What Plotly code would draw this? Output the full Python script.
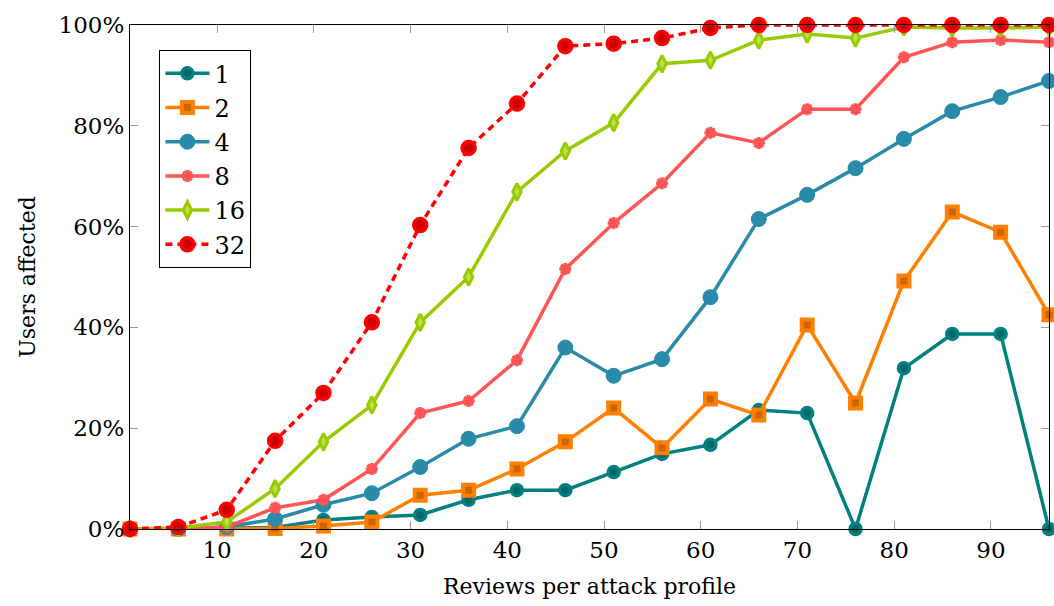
import plotly.graph_objects as go

reviews = [1, 6, 11, 16, 21, 26, 31, 36, 41, 46, 51, 56, 61, 66, 71, 76, 81, 86, 91, 96]

s1 = [0, 0, 0.2, 0.3, 1.8, 2.4, 2.8, 5.8, 7.7, 7.7, 11.3, 14.9, 16.7, 23.6, 23.0, 0, 31.9, 38.7, 38.7, 0]
s2 = [0, 0, 0, 0.1, 0.6, 1.4, 6.7, 7.7, 11.9, 17.3, 24.0, 16.1, 25.8, 22.6, 40.5, 25.0, 49.2, 62.9, 58.9, 42.5]
s4 = [0, 0, 0.4, 2.0, 4.8, 7.1, 12.3, 17.9, 20.4, 36.0, 30.4, 33.7, 46.0, 61.5, 66.3, 71.6, 77.4, 82.9, 85.7, 88.9]
s8 = [0, 0, 0.4, 4.2, 5.8, 11.9, 23.0, 25.4, 33.5, 51.6, 60.7, 68.6, 78.6, 76.6, 83.3, 83.3, 93.6, 96.6, 97.0, 96.6]
s16 = [0, 0.2, 1.4, 8.0, 17.3, 24.6, 41.0, 50.0, 66.9, 75.0, 80.6, 92.3, 93.0, 97.0, 98.2, 97.4, 99.6, 99.4, 99.4, 99.6]
s32 = [0, 0.4, 3.8, 17.5, 27.0, 41.0, 60.3, 75.6, 84.4, 95.8, 96.3, 97.4, 99.4, 100, 100, 100, 100, 100, 100, 100]

names = ["1", "2", "4", "8", "16", "32"]
FONT = "DejaVu Serif"

fig = go.Figure()

styles = [
    (s1, dict(color="#008080", width=3.5),
     dict(symbol="circle", size=11, color="#006666", line=dict(color="#008080", width=3.5))),
    (s2, dict(color="#ff8000", width=3.5),
     dict(symbol="square", size=11, color="#cc6600", line=dict(color="#ff8000", width=4))),
    (s4, dict(color="#2a8aaa", width=3.5),
     dict(symbol="circle", size=15, color="#2a8aaa", line=dict(color="#2a8aaa", width=1))),
    (s8, dict(color="#ff5555", width=3.5),
     dict(symbol="asterisk-open", size=10, color="#ff5555", line=dict(color="#ff5555", width=3.5))),
    (s16, dict(color="#99cc00", width=3.5),
     dict(symbol="diamond-tall", size=12, color="#bfe050", line=dict(color="#99cc00", width=3))),
    (s32, dict(color="#ff0000", width=3.5, dash="7px,5px"),
     dict(symbol="circle", size=13, color="#cc0000", line=dict(color="#ff0000", width=3.5))),
]

for name, (vals, line, marker) in zip(names, styles):
    fig.add_trace(go.Scatter(
        x=reviews, y=vals, name=name, mode="lines+markers",
        line=line, marker=marker, cliponaxis=False,
    ))

fig.update_layout(
    width=1054, height=606,
    margin=dict(l=130, r=5, t=25, b=77),
    plot_bgcolor="white", paper_bgcolor="white",
    font=dict(family=FONT, size=23, color="black"),
    legend=dict(
        x=0.032, y=0.95, xanchor="left", yanchor="top",
        bgcolor="white", bordercolor="black", borderwidth=1,
        font=dict(family=FONT, size=24),
        tracegroupgap=0, itemwidth=44,
    ),
    showlegend=True,
)

fig.update_xaxes(
    range=[1, 96], tickvals=[10, 20, 30, 40, 50, 60, 70, 80, 90],
    showgrid=False, zeroline=False,
    showline=True, linecolor="black", linewidth=1.2, mirror="allticks",
    ticks="inside", ticklen=8, tickcolor="#999999", tickwidth=1.2,
    title=dict(text="Reviews per attack profile", font=dict(family=FONT, size=22), standoff=16),
    tickfont=dict(family=FONT, size=23),
)
fig.update_yaxes(
    range=[0, 100], tickvals=[0, 20, 40, 60, 80, 100],
    ticktext=["0%", "20%", "40%", "60%", "80%", "100%"],
    showgrid=False, zeroline=False,
    showline=True, linecolor="black", linewidth=1.2, mirror="allticks",
    ticks="inside", ticklen=8, tickcolor="#999999", tickwidth=1.2,
    title=dict(text="Users affected", font=dict(family=FONT, size=22), standoff=16),
    tickfont=dict(family=FONT, size=23),
)

fig.write_html("out.html")
